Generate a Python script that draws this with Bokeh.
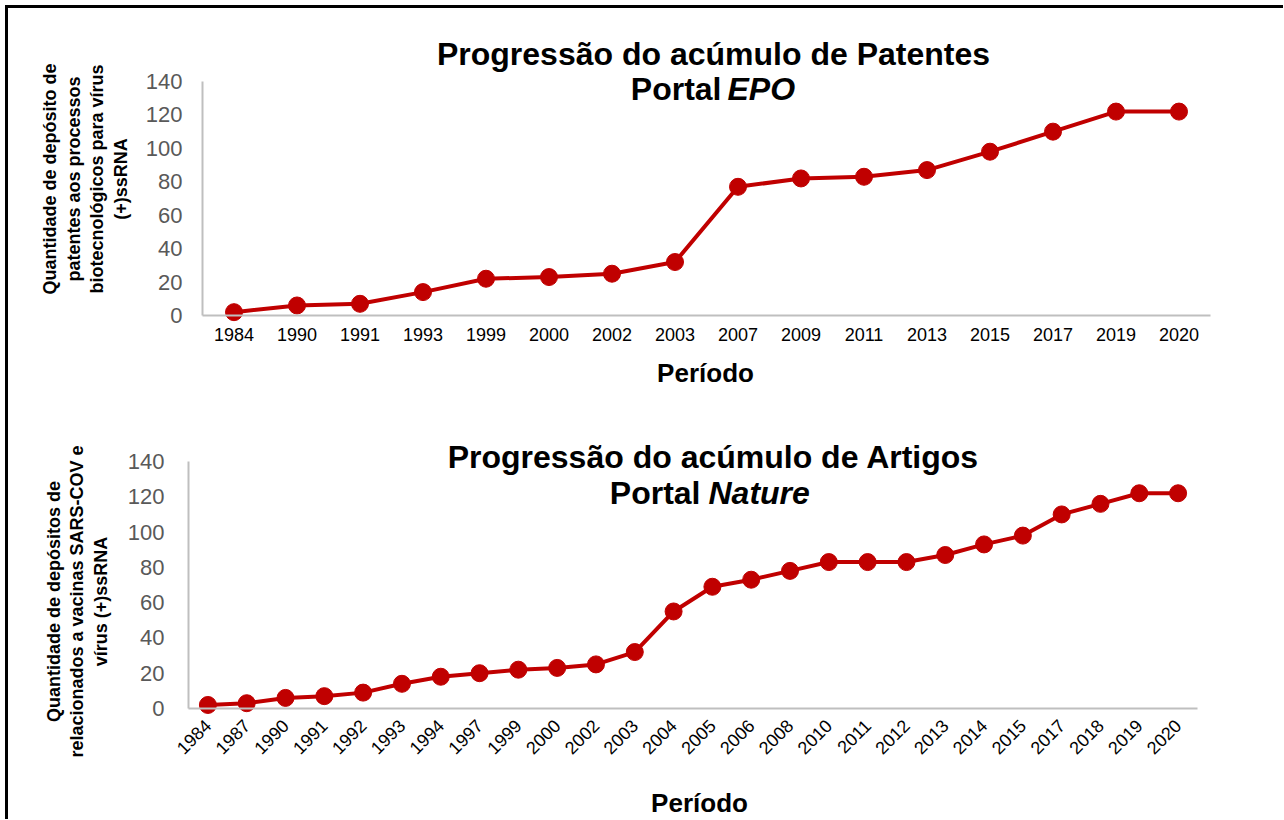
import math
from bokeh.plotting import figure
from bokeh.layouts import column
from bokeh.models import Range1d, Label, FixedTicker
from bokeh.embed import file_html
from bokeh.resources import INLINE

# ---------------- data ----------------
anos_patentes = ["1984", "1990", "1991", "1993", "1999", "2000", "2002", "2003",
                 "2007", "2009", "2011", "2013", "2015", "2017", "2019", "2020"]
patentes = [2, 6, 7, 14, 22, 23, 25, 32, 77, 82, 83, 87, 98, 110, 122, 122]

anos_artigos = ["1984", "1987", "1990", "1991", "1992", "1993", "1994", "1997",
                "1999", "2000", "2002", "2003", "2004", "2005", "2006", "2008",
                "2010", "2011", "2012", "2013", "2014", "2015", "2017", "2018",
                "2019", "2020"]
artigos = [2, 3, 6, 7, 9, 14, 18, 20, 22, 23, 25, 32, 55, 69, 73, 78,
           83, 83, 83, 87, 93, 98, 110, 116, 122, 122]

y_ticks = [0, 20, 40, 60, 80, 100, 120, 140]

titulo1_l1 = "Progressão do acúmulo de Patentes"
titulo1_a, titulo1_b = "Portal", "EPO"
ylabel1 = "Quantidade de depósito de\npatentes aos processos\nbiotecnológicos para vírus\n(+)ssRNA"

titulo2_l1 = "Progressão do acúmulo de Artigos"
titulo2_a, titulo2_b = "Portal", "Nature"
ylabel2 = "Quantidade de depósitos de\nrelacionados a vacinas SARS-COV e\nvírus (+)ssRNA"

xlabel = "Período"

# ---------------- style ----------------
RED = "#C00000"
AXIS = "#BFBFBF"
FONT = "Liberation Sans"
ORIGIN_X, ORIGIN_Y = 8, 8      # page position of the content (inside the frame border)
W = 1275


class Geo:
    """Maps page pixels to data coordinates for a chart whose frame fills its canvas."""
    def __init__(self, top, height, x_first, cat_w, zero_y, ppu):
        self.top, self.height = top, height
        self.x_first, self.cat_w = x_first, cat_w
        self.zero_y, self.ppu = zero_y, ppu

    def x(self, px):
        return (px - self.x_first) / self.cat_w

    def y(self, py):
        return (self.zero_y - py) / self.ppu


def make_chart(years, values, g, ylab_standoff, x_standoff, rotate, tick_size, xtick_size):
    n = len(years)
    idx = list(range(n))
    p = figure(width=W, height=g.height,
               x_range=Range1d(g.x(ORIGIN_X), g.x(ORIGIN_X + W)),
               y_range=Range1d(g.y(g.top + g.height), g.y(g.top)),
               output_backend="svg", toolbar_location=None, title=None,
               min_border=0, min_border_left=0, min_border_right=0,
               min_border_top=0, min_border_bottom=0)
    p.outline_line_color = None
    p.background_fill_color = "white"
    p.border_fill_color = "white"
    p.xgrid.visible = False
    p.ygrid.visible = False

    ya = p.yaxis[0]
    ya.fixed_location = -0.5
    ya.ticker = FixedTicker(ticks=y_ticks)
    ya.bounds = (0, 140)
    ya.axis_line_color = AXIS
    ya.axis_line_width = 2
    ya.major_tick_line_color = None
    ya.minor_tick_line_color = None
    ya.major_tick_out = 0
    ya.major_tick_in = 0
    ya.major_label_standoff = ylab_standoff
    ya.major_label_text_font = FONT
    ya.major_label_text_font_size = tick_size
    ya.major_label_text_color = "#595959"

    xa = p.xaxis[0]
    xa.fixed_location = 0
    xa.ticker = FixedTicker(ticks=idx)
    xa.major_label_overrides = {i: y for i, y in zip(idx, years)}
    xa.bounds = (-0.5, n - 0.5)
    xa.axis_line_color = AXIS
    xa.axis_line_width = 2
    xa.major_tick_line_color = None
    xa.minor_tick_line_color = None
    xa.major_tick_out = 0
    xa.major_tick_in = 0
    xa.major_label_standoff = x_standoff
    xa.major_label_text_font = FONT
    xa.major_label_text_font_size = xtick_size
    xa.major_label_text_color = "black"
    if rotate:
        xa.major_label_orientation = math.pi / 4

    p.line(x=idx, y=values, line_color=RED, line_width=4)
    p.scatter(x=idx, y=values, size=17, fill_color=RED, line_color=RED)
    return p


def add_text(p, x, y, text, size, align="center", baseline="alphabetic",
             style="bold", angle=0.0, line_height=1.2):
    p.add_layout(Label(x=x, y=y, text=text, text_font=FONT,
                       text_font_size=size, text_font_style=style,
                       text_align=align, text_baseline=baseline,
                       text_color="black", angle=angle, text_line_height=line_height))


# ---------------- top chart ----------------
g1 = Geo(top=ORIGIN_Y, height=397, x_first=233.5, cat_w=63.0,
         zero_y=315, ppu=(315 - 81) / 140.0)
p1 = make_chart(anos_patentes, patentes, g1, ylab_standoff=20, x_standoff=12,
                rotate=False, tick_size="22px", xtick_size="18px")
add_text(p1, g1.x(713), g1.y(53), titulo1_l1, "32px")
add_text(p1, g1.x(721), g1.y(88), titulo1_a, "32px", align="right")
add_text(p1, g1.x(727), g1.y(88), titulo1_b, "32px", align="left", style="bold italic")
add_text(p1, g1.x(705), g1.y(372), xlabel, "26px", baseline="middle")
add_text(p1, g1.x(85), g1.y(178.5), ylabel1, "18px", baseline="middle",
         angle=math.pi / 2, line_height=1.17)

# ---------------- bottom chart ----------------
g2 = Geo(top=ORIGIN_Y + 397, height=414, x_first=207.4, cat_w=1009 / 26.0,
         zero_y=708, ppu=(708 - 461) / 140.0)
p2 = make_chart(anos_artigos, artigos, g2, ylab_standoff=24, x_standoff=14,
                rotate=True, tick_size="22px", xtick_size="18px")
add_text(p2, g2.x(713), g2.y(456), titulo2_l1, "32px")
add_text(p2, g2.x(700), g2.y(492), titulo2_a, "32px", align="right")
add_text(p2, g2.x(708), g2.y(492), titulo2_b, "32px", align="left", style="bold italic")
add_text(p2, g2.x(699), g2.y(802), xlabel, "26px", baseline="middle")
add_text(p2, g2.x(77), g2.y(601), ylabel2, "18px", baseline="middle",
         angle=math.pi / 2, line_height=1.17)

layout = column(p1, p2, spacing=0,
                styles={"border-left": "3px solid black",
                        "border-top": "3px solid black",
                        "margin-left": "5px", "margin-top": "5px"})

open("out.html", "w").write(file_html(layout, INLINE))
